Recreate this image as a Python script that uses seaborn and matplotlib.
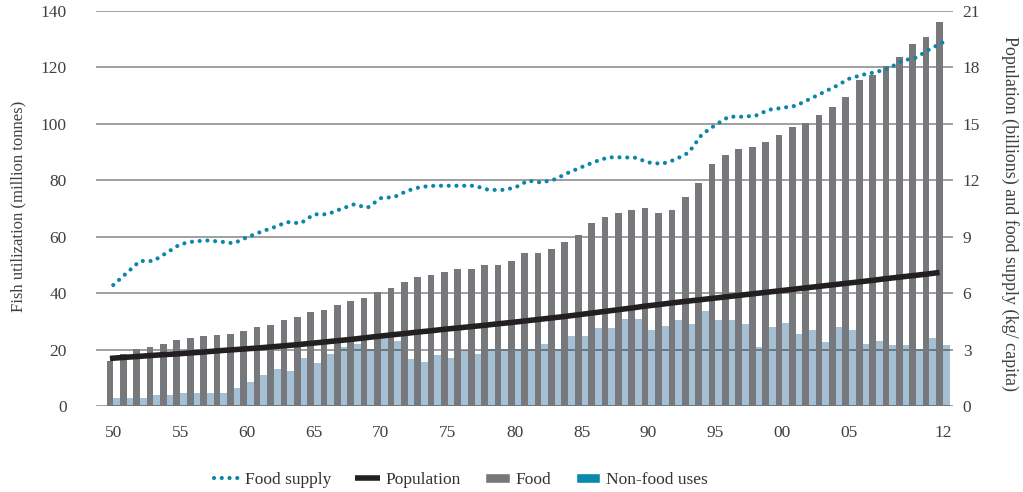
import numpy as np
import pandas as pd
import matplotlib
matplotlib.use("Agg")
import matplotlib.pyplot as plt
import seaborn as sns
from matplotlib.lines import Line2D
from matplotlib.patches import Patch

# data, 1950-2012
years = list(range(1950, 2013))
food = [16.0, 18.4, 20.1, 20.9, 22.0, 23.4, 24.1, 24.8, 25.2, 25.5,
        26.6, 28.0, 28.7, 30.5, 31.5, 33.3, 34.0, 35.8, 37.2, 38.3,
        40.3, 41.9, 44.0, 45.7, 46.4, 47.5, 48.6, 48.6, 50.0, 50.0,
        51.4, 54.2, 54.2, 55.7, 58.1, 60.6, 64.9, 67.0, 68.4, 69.5,
        70.2, 68.4, 69.5, 74.1, 79.0, 85.8, 89.0, 91.1, 91.8, 93.6,
        96.1, 98.9, 100.3, 103.2, 106.0, 109.5, 115.6, 117.3, 120.5, 123.7,
        128.4, 130.8, 136.1]
non_food = [2.7, 2.8, 2.8, 3.9, 3.9, 4.7, 4.7, 4.7, 4.7, 6.3,
            8.5, 11.0, 13.2, 12.4, 17.0, 15.2, 18.4, 20.9, 22.0, 20.2,
            24.3, 23.2, 16.7, 15.7, 18.0, 17.0, 19.9, 18.5, 20.1, 20.1,
            20.1, 20.1, 22.0, 20.1, 24.8, 24.8, 27.8, 27.8, 30.8, 30.8,
            26.9, 28.5, 30.4, 29.2, 33.7, 30.4, 30.4, 29.2, 20.9, 27.9,
            29.5, 25.5, 26.9, 22.8, 27.9, 26.9, 22.1, 23.0, 21.6, 21.6,
            20.1, 24.1, 21.6]
food_supply = [6.43, 7.07, 7.71, 7.71, 8.15, 8.60, 8.75, 8.80, 8.74, 8.65,
               8.97, 9.25, 9.50, 9.78, 9.71, 10.19, 10.19, 10.47, 10.72, 10.54,
               11.05, 11.11, 11.45, 11.65, 11.71, 11.71, 11.71, 11.71, 11.50, 11.48,
               11.60, 11.98, 11.88, 12.05, 12.40, 12.70, 12.99, 13.22, 13.22, 13.20,
               12.95, 12.87, 13.10, 13.47, 14.44, 14.94, 15.38, 15.38, 15.43, 15.75,
               15.85, 15.96, 16.30, 16.65, 17.00, 17.40, 17.61, 17.75, 17.97, 18.36,
               18.52, 18.96, 19.33]
population = [2.53, 2.58, 2.63, 2.68, 2.73, 2.77, 2.82, 2.87, 2.93, 2.98,
              3.03, 3.08, 3.14, 3.20, 3.26, 3.33, 3.40, 3.47, 3.54, 3.62,
              3.70, 3.78, 3.85, 3.93, 4.00, 4.08, 4.15, 4.22, 4.29, 4.37,
              4.44, 4.52, 4.60, 4.68, 4.76, 4.85, 4.94, 5.03, 5.12, 5.21,
              5.31, 5.39, 5.48, 5.56, 5.64, 5.72, 5.80, 5.88, 5.96, 6.04,
              6.12, 6.20, 6.28, 6.36, 6.44, 6.52, 6.60, 6.68, 6.77, 6.85,
              6.93, 7.01, 7.10]
tick_years = [1950, 1955, 1960, 1965, 1970, 1975, 1980, 1985, 1990, 1995, 2000, 2005, 2012]
tick_labels = ["50", "55", "60", "65", "70", "75", "80", "85", "90", "95", "00", "05", "12"]

GRAY = "#77787c"
LIGHT_BLUE = "#a5c0d4"
TEAL = "#0a86aa"
TEAL_LEG = "#0a88ae"
BLACK = "#231f20"
TEXT = "#404040"

sns.set_style("white")
plt.rcParams["font.family"] = ["Liberation Serif", "DejaVu Serif"]
plt.rcParams["font.size"] = 12.5

df = pd.DataFrame({
    "year": years * 2,
    "use": ["Food"] * len(years) + ["Non-food uses"] * len(years),
    "value": food + non_food,
})

fig = plt.figure(figsize=(10.23, 4.92), dpi=100)
ax = fig.add_axes([96 / 1023, 1 - 406 / 492, 857 / 1023, 395 / 492])

sns.barplot(data=df, x="year", y="value", hue="use",
            palette={"Food": GRAY, "Non-food uses": LIGHT_BLUE},
            width=1.0, gap=0, saturation=1, dodge=True, legend=False, ax=ax,
            linewidth=0, edgecolor="none")
# gridlines sit above the light bars but below the grey ones
for bar in ax.containers[0]:
    bar.set_zorder(2)
for bar in ax.containers[1]:
    bar.set_zorder(1)

pos = np.arange(len(years))
ax.set_xlim(-1.29, 62.76)
ax.set_ylim(0, 140)
ax.set_yticks(range(0, 141, 20))
ax.set_xticks([years.index(y) for y in tick_years])
ax.set_xticklabels(tick_labels)
ax.set_xlabel("")
ax.set_ylabel("")
ax.set_axisbelow("line")
ax.yaxis.grid(True, color="black", alpha=0.48, linewidth=1.1)
for s in ax.spines.values():
    s.set_visible(False)
ax.tick_params(axis="both", length=0, colors=TEXT, labelsize=12.5)
ax.tick_params(axis="y", pad=21)
ax.tick_params(axis="x", pad=14)

ax2 = ax.twinx()
sns.lineplot(x=pos - 0.25, y=population, ax=ax2, color=BLACK, linewidth=4.0,
             solid_capstyle="butt", zorder=3)
sns.lineplot(x=pos, y=food_supply, ax=ax2, color=TEAL, linewidth=3.0,
             linestyle=(0, (0.01, 1.85)), dash_capstyle="round", zorder=4)
ax2.set_ylim(0, 21)
ax2.set_yticks(range(0, 22, 3))
ax2.set_xlim(-1.29, 62.76)
ax2.grid(False)
for s in ax2.spines.values():
    s.set_visible(False)
ax2.tick_params(axis="y", length=0, colors=TEXT, labelsize=12.5, pad=7)

fig.text(18 / 1023, 1 - 206 / 492, "Fish utilization (million tonnes)", rotation=90,
         ha="center", va="center", color=TEXT, fontsize=12)
fig.text(1010 / 1023, 1 - 214 / 492, "Population (billions) and food supply (kg/ capita)",
         rotation=270, ha="center", va="center", color=TEXT, fontsize=13)

handles = [
    Line2D([0], [0], color=TEAL, linewidth=3.0, linestyle=(0, (0.01, 1.85)),
           dash_capstyle="round"),
    Line2D([0], [0], color=BLACK, linewidth=4.0, solid_capstyle="butt"),
    Patch(facecolor=GRAY),
    Patch(facecolor=TEAL_LEG),
]
leg = fig.legend(handles, ["Food supply", "Population", "Food", "Non-food uses"],
                 loc="center", bbox_to_anchor=(461 / 1023, 1 - 480 / 492), ncol=4,
                 frameon=False, fontsize=12.5, handlelength=1.4, handleheight=0.5,
                 handletextpad=0.35, columnspacing=1.4)
for t in leg.get_texts():
    t.set_color("#333333")

fig.savefig("out.png", dpi=100)
